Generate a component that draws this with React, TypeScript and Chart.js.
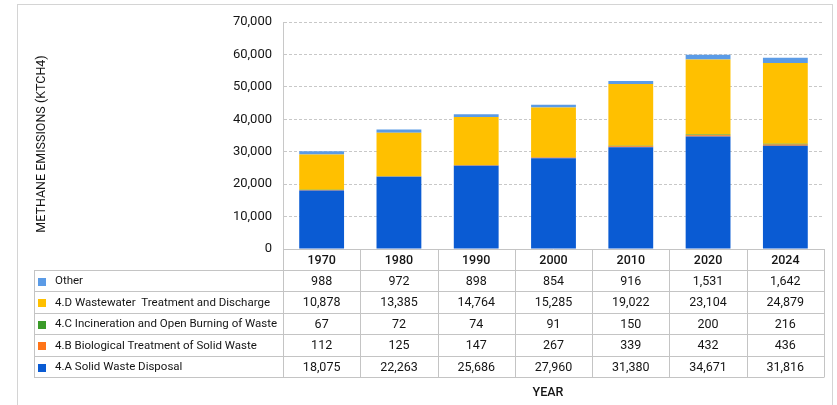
import React, { useEffect, useRef } from "react";
import { Chart, registerables } from "chart.js";

Chart.register(...registerables);

const years = ["1970", "1980", "1990", "2000", "2010", "2020", "2024"];
const solidWaste = [18075, 22263, 25686, 27960, 31380, 34671, 31816];
const biological = [112, 125, 147, 267, 339, 432, 436];
const incineration = [67, 72, 74, 91, 150, 200, 216];
const wastewater = [10878, 13385, 14764, 15285, 19022, 23104, 24879];
const other = [988, 972, 898, 854, 916, 1531, 1642];

const seriesNames = [
  "4.A Solid Waste Disposal",
  "4.B Biological Treatment of Solid Waste",
  "4.C Incineration and Open Burning of Waste",
  "4.D Wastewater  Treatment and Discharge",
  "Other",
];
const seriesValues = [solidWaste, biological, incineration, wastewater, other];
const seriesColors = ["#0A5BD3", "#FF7418", "#3A9A28", "#FFC000", "#5B9BE6"];

const yMax = 70000;
const yStep = 10000;
const yTitle = "METHANE EMISSIONS (KTCH4)";
const xTitle = "YEAR";

const FONT = "Roboto, 'Open Sans', sans-serif";

const tablePlugin = {
  id: "dataTable",
  beforeDraw(chart: any) {
    const ctx = chart.ctx;
    ctx.save();
    ctx.strokeStyle = "#d4d4d4";
    ctx.lineWidth = 1;
    ctx.strokeRect(17.5, 4.5, 815, 420);
    ctx.restore();
  },
  afterDraw(chart: any) {
    const ctx = chart.ctx;
    const area = chart.chartArea;
    const xs = chart.scales.x;
    const n = years.length;
    const colW = (area.right - area.left) / n;
    const tableLeft = 34;
    const headTop = Math.round(area.bottom);
    const headH = 21;
    const rowH = 21.4;
    const rows = seriesNames.length;
    const rowEdges: number[] = [];
    for (let r = 0; r <= rows; r++) rowEdges.push(Math.round(headTop + headH + r * rowH));
    const bottom = rowEdges[rows];
    const right = Math.round(area.right);
    const left = Math.round(area.left);

    ctx.save();
    ctx.lineWidth = 1;
    ctx.strokeStyle = "#c4c4c4";
    ctx.beginPath();
    ctx.moveTo(left, headTop + 0.5);
    ctx.lineTo(right, headTop + 0.5);
    for (const y of rowEdges) {
      ctx.moveTo(tableLeft, y + 0.5);
      ctx.lineTo(right, y + 0.5);
    }
    ctx.moveTo(tableLeft + 0.5, rowEdges[0]);
    ctx.lineTo(tableLeft + 0.5, bottom + 0.5);
    for (let i = 0; i <= n; i++) {
      const xv = Math.round(i < n ? xs.getPixelForValue(i) - colW / 2 : xs.getPixelForValue(n - 1) + colW / 2);
      ctx.moveTo(xv + 0.5, headTop);
      ctx.lineTo(xv + 0.5, bottom + 0.5);
    }
    ctx.stroke();

    ctx.fillStyle = "#151515";
    ctx.textBaseline = "middle";
    ctx.textAlign = "center";
    ctx.font = `500 12.5px ${FONT}`;
    years.forEach((yr, i) => {
      ctx.fillText(yr, xs.getPixelForValue(i), headTop + headH / 2 + 1);
    });

    for (let r = 0; r < rows; r++) {
      const s = rows - 1 - r;
      const cy = (rowEdges[r] + rowEdges[r + 1]) / 2 + 1;
      ctx.fillStyle = seriesColors[s];
      ctx.fillRect(38, Math.round(cy - 4), 8, 8);
      ctx.fillStyle = "#151515";
      ctx.textAlign = "left";
      ctx.font = `400 11.5px ${FONT}`;
      ctx.fillText(seriesNames[s], 55, cy);
      ctx.textAlign = "center";
      ctx.font = `400 12.5px ${FONT}`;
      seriesValues[s].forEach((v, i) => {
        ctx.fillText(v.toLocaleString("en-US"), xs.getPixelForValue(i), cy);
      });
    }

    ctx.font = `500 12.5px ${FONT}`;
    ctx.textAlign = "center";
    ctx.fillText(xTitle, 548, 393);

    ctx.translate(42, 144);
    ctx.rotate(-Math.PI / 2);
    ctx.font = `400 12.5px ${FONT}`;
    ctx.fillText(yTitle, 0, 0);
    ctx.restore();
  },
};

export default function App() {
  const ref = useRef<HTMLCanvasElement | null>(null);
  useEffect(() => {
    document.body.style.margin = "0";
    const canvas = ref.current!;
    const chart = new Chart(canvas, {
      type: "bar",
      data: {
        labels: years,
        datasets: seriesNames.map((name, i) => ({
          label: name,
          data: seriesValues[i],
          backgroundColor: seriesColors[i],
          borderWidth: 0,
          barPercentage: 0.58,
          categoryPercentage: 1,
        })),
      },
      options: {
        animation: false,
        responsive: false,
        devicePixelRatio: 1,
        layout: { padding: { left: 0, right: 13, top: 22, bottom: 156 } },
        plugins: { legend: { display: false }, tooltip: { enabled: false } },
        scales: {
          x: { stacked: true, display: false },
          y: {
            stacked: true,
            min: 0,
            max: yMax,
            afterFit: (scale: any) => {
              scale.width = 283;
            },
            ticks: {
              stepSize: yStep,
              padding: 11,
              color: "#151515",
              font: { family: FONT, size: 13 },
              callback: (v: any) => Number(v).toLocaleString("en-US"),
            },
            grid: {
              drawTicks: false,
              color: "#c8c8c8",
              lineWidth: 1,
            },
            border: { display: true, color: "#c8c8c8", dash: [3, 2] },
          },
        },
      },
      plugins: [tablePlugin],
    });
    return () => chart.destroy();
  }, []);
  return <canvas ref={ref} width={837} height={405} style={{ display: "block", width: 837, height: 405 }} />;
}
